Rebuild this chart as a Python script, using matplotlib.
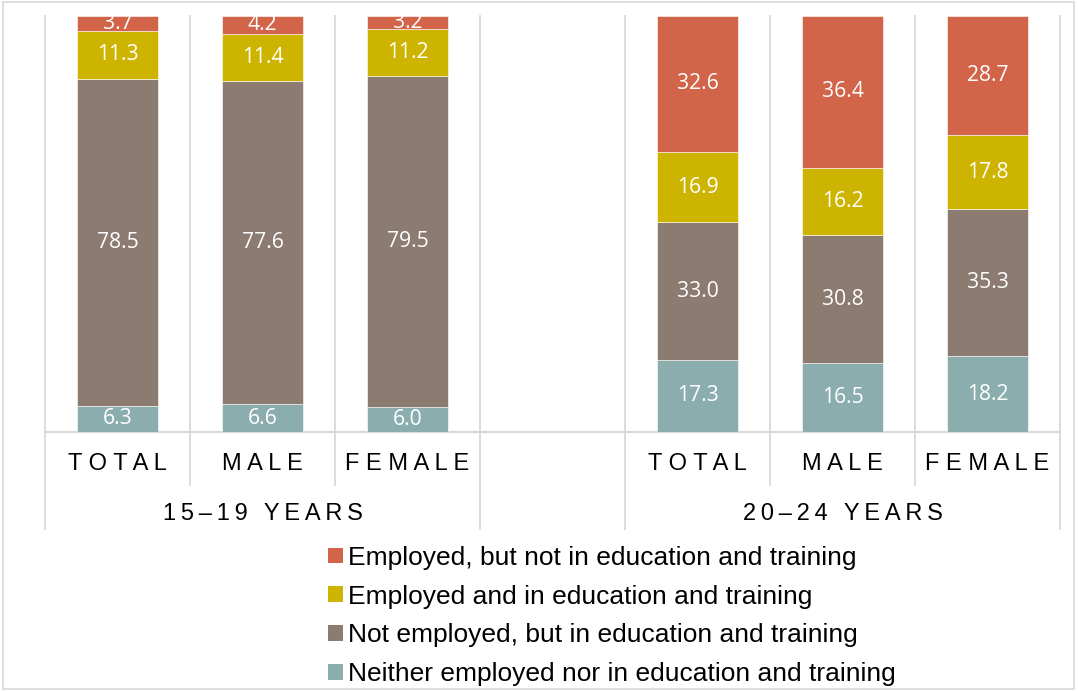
import matplotlib
matplotlib.use("Agg")
import matplotlib.pyplot as plt
import matplotlib.transforms as mtransforms
from matplotlib.patches import Patch, Rectangle
import numpy as np

# ---- data ----
categories = ["TOTAL", "MALE", "FEMALE", "", "TOTAL", "MALE", "FEMALE"]
groups = ["15–19 YEARS", "", "20–24 YEARS"]
group_spans = [(0, 3), (3, 4), (4, 7)]  # category index ranges for each group

series_names = [
    "Neither employed nor in education and training",
    "Not employed, but in education and training",
    "Employed and in education and training",
    "Employed, but not in education and training",
]
neet = [6.3, 6.6, 6.0, None, 17.3, 16.5, 18.2]
not_emp_edu = [78.5, 77.6, 79.5, None, 33.0, 30.8, 35.3]
emp_edu = [11.3, 11.4, 11.2, None, 16.9, 16.2, 17.8]
emp_not_edu = [3.7, 4.2, 3.2, None, 32.6, 36.4, 28.7]

series_values = [neet, not_emp_edu, emp_edu, emp_not_edu]
colors = ["#8BADAE", "#8B7B70", "#CDB400", "#D2644A"]

# ---- figure ----
W, H = 1078, 691
fig = plt.figure(figsize=(W / 100, H / 100), dpi=100)
ax = fig.add_axes([45 / W, (H - 432) / H, (1060 - 45) / W, (432 - 16) / H])

n = len(categories)
x = np.arange(n)
valid = [i for i in range(n) if series_values[0][i] is not None]
vals = np.array([[s[i] for i in valid] for s in series_values], dtype=float)
totals = vals.sum(axis=0)
pct = vals / totals * 100.0
xv = x[valid]

bottom = np.zeros(len(valid))
label_font = dict(family=["Open Sans", "DejaVu Sans"], fontsize=15.2, color="white")
for k in range(len(series_values)):
    ax.bar(xv, pct[k], bottom=bottom, width=0.56, color=colors[k],
           edgecolor="white", linewidth=0.4, zorder=3)
    for j in range(len(valid)):
        ax.text(xv[j], bottom[j] + pct[k][j] / 2, f"{vals[k][j]:.1f}",
                ha="center", va="center", zorder=4, **label_font)
    bottom += pct[k]

ax.set_xlim(-0.5, n - 0.5)
ax.set_ylim(0, 100)
ax.set_xticks([])
ax.set_yticks([])
for sp in ax.spines.values():
    sp.set_visible(False)

grid_c = "#D9D9D9"
trans = mtransforms.blended_transform_factory(ax.transData, ax.transAxes)
# horizontal axis line
ax.plot([-0.5, n - 0.5], [0, 0], transform=trans, color=grid_c, lw=1.6,
        clip_on=False, zorder=2)
# category boundary lines
tier1 = -0.128
tier2 = -0.232
group_edges = set()
for a, b in group_spans:
    group_edges.add(a)
    group_edges.add(b)
for b in range(n + 1):
    xb = b - 0.5
    y_low = tier2 if b in group_edges else tier1
    ax.plot([xb, xb], [y_low, 1.0], transform=trans, color=grid_c, lw=1.3,
            clip_on=False, zorder=1)

tick_font = dict(family=["Liberation Sans", "DejaVu Sans"], fontsize=17, color="black")
def spaced(s, sep=" "):
    return sep.join(list(s))
for i, c in enumerate(categories):
    if c:
        ax.text(i, -0.077, spaced(c), transform=trans, ha="center", va="center",
                **tick_font)
for g, (a, b) in zip(groups, group_spans):
    if g:
        ax.text((a + b - 1) / 2, -0.198, spaced(g, "\u2009"),
                transform=trans, ha="center", va="center", **tick_font)

# legend (top to bottom: reverse stacking order)
handles = [Patch(facecolor=colors[k], edgecolor="none") for k in range(3, -1, -1)]
labels = [series_names[k] for k in range(3, -1, -1)]
fig.legend(handles, labels, loc="center", bbox_to_anchor=(612 / W, 1 - 616 / H),
           frameon=False, handlelength=0.55, handleheight=0.55, handletextpad=0.18,
           labelspacing=0.56, prop=dict(family="Liberation Sans", size=19))

# chart border
fig.patches.append(Rectangle((3 / W, 2 / H), (1074 - 3) / W, (689 - 2) / H,
                             transform=fig.transFigure, fill=False,
                             edgecolor=grid_c, lw=1.2))

fig.savefig("out.png", dpi=100)
